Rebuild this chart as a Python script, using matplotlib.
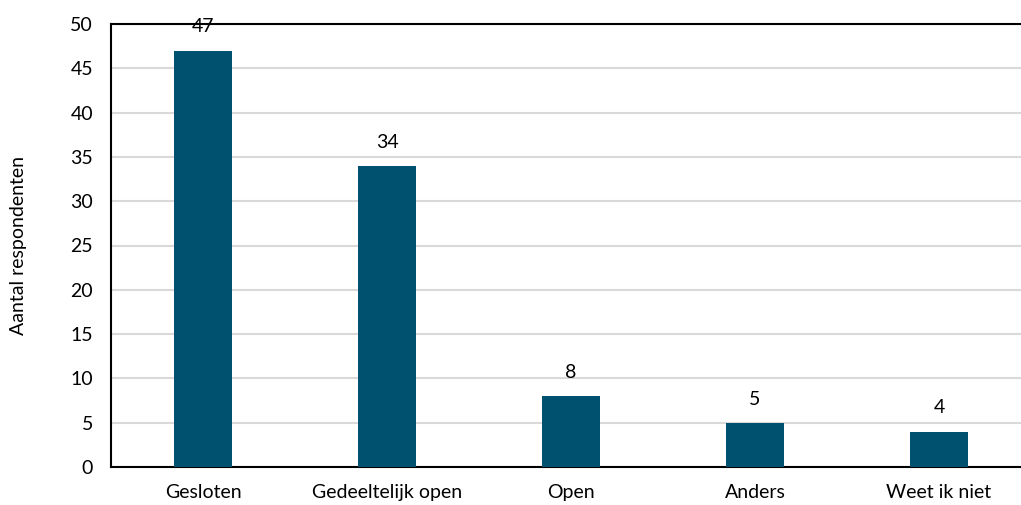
import matplotlib
matplotlib.use("Agg")
import matplotlib.pyplot as plt

categories = ["Gesloten", "Gedeeltelijk open", "Open", "Anders", "Weet ik niet"]
values = [47, 34, 8, 5, 4]
yticks = [0, 5, 10, 15, 20, 25, 30, 35, 40, 45, 50]

plt.rcParams['font.family'] = ['Lato', 'DejaVu Sans']
FS = 14

fig = plt.figure(figsize=(10.21, 5.05), dpi=100)
ax = fig.add_axes([111/1021, 38/505, 920/1021, 443/505])

x = list(range(len(categories)))
ax.bar(x, values, width=0.31, color="#00506f", zorder=3)
for xi, v in zip(x, values):
    ax.annotate(str(v), (xi, v), xytext=(0, 17), textcoords="offset points",
                ha="center", va="center", fontsize=FS, color="#000000", zorder=5)

ax.set_xlim(-0.5, len(categories) - 0.5)
ax.set_ylim(0, 50)
ax.set_yticks(yticks)
ax.set_xticks(x)
ax.set_xticklabels(categories)
ax.tick_params(axis='both', length=0, labelsize=FS, colors="#000000")
ax.tick_params(axis='y', pad=13)
ax.tick_params(axis='x', pad=12)
ax.yaxis.grid(True, color="#d9d9d9", linewidth=1.5, zorder=0)
ax.set_axisbelow(True)
ax.spines["right"].set_visible(False)
for s in ["left", "bottom", "top"]:
    ax.spines[s].set_color("#000000")
    ax.spines[s].set_linewidth(1.5)
ax.set_ylabel("Aantal respondenten", fontsize=FS)
ax.yaxis.set_label_coords(-84/920, 0.5)

fig.savefig("out.png", dpi=100)
